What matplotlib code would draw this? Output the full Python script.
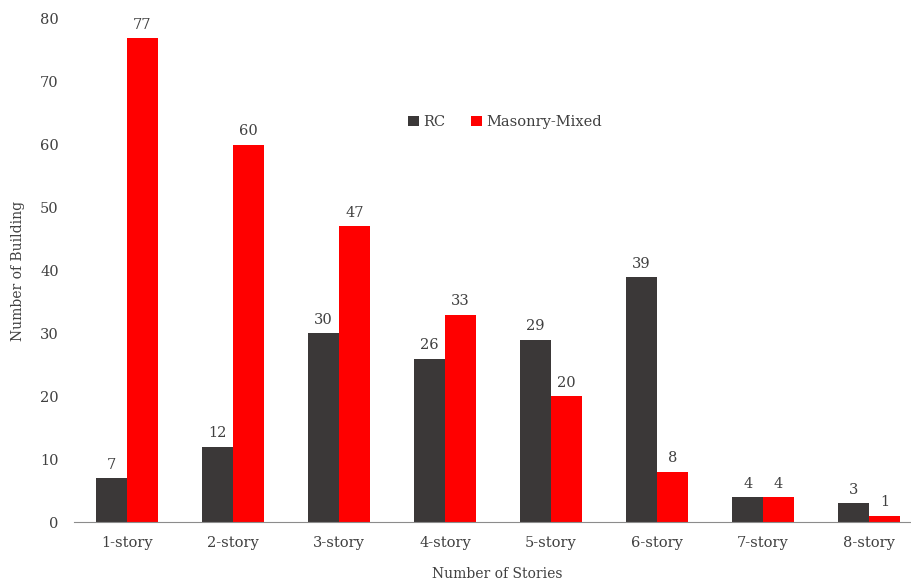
import numpy as np
import matplotlib.pyplot as plt

# Building counts per number of stories
stories = ['1-story', '2-story', '3-story', '4-story', '5-story', '6-story', '7-story', '8-story']
rc = [7, 12, 30, 26, 29, 39, 4, 3]
masonry = [77, 60, 47, 33, 20, 8, 4, 1]

DARK = '#3b3838'
RED = '#ff0000'
TXT = '#404040'

plt.rcParams['font.family'] = ['DejaVu Serif']

fig = plt.figure(figsize=(9.12, 5.86), dpi=100)
ax = fig.add_axes([74 / 912, 64 / 586, 848 / 912, 503 / 586])

x = np.arange(len(stories))
w = 0.29
b1 = ax.bar(x - w / 2, rc, w, color=DARK, label='RC')
b2 = ax.bar(x + w / 2, masonry, w, color=RED, label='Masonry-Mixed')

for bars in (b1, b2):
    for b in bars:
        ax.text(b.get_x() + b.get_width() / 2, b.get_height() + 1.0, str(int(b.get_height())),
                ha='center', va='bottom', fontsize=10.5, color=TXT)

ax.set_xlim(-0.5, len(stories) - 0.5)
ax.set_ylim(0, 80)
ax.set_yticks(range(0, 81, 10))
ax.set_xticks(x)
ax.set_xticklabels(stories)
ax.tick_params(axis='both', length=0, labelsize=10.5, labelcolor=TXT)
ax.tick_params(axis='y', pad=11)
ax.tick_params(axis='x', pad=10)

for s in ['top', 'right', 'left']:
    ax.spines[s].set_visible(False)
ax.spines['bottom'].set_color('#8c8c8c')

ax.set_xlabel('Number of Stories', fontsize=10, color=TXT)
ax.xaxis.set_label_coords((497 - 74) / 848, -0.09)
ax.set_ylabel('Number of Building', fontsize=10, color=TXT)
ax.yaxis.set_label_coords(-0.058, 0.5)

leg = ax.legend(loc='center', bbox_to_anchor=((505 - 74) / 848, (522 - 122) / 503), ncol=2,
                frameon=False, fontsize=10.5, handlelength=0.7, handleheight=0.7,
                handletextpad=0.3, columnspacing=1.8)
for t in leg.get_texts():
    t.set_color(TXT)

fig.savefig('out.png', dpi=100)
